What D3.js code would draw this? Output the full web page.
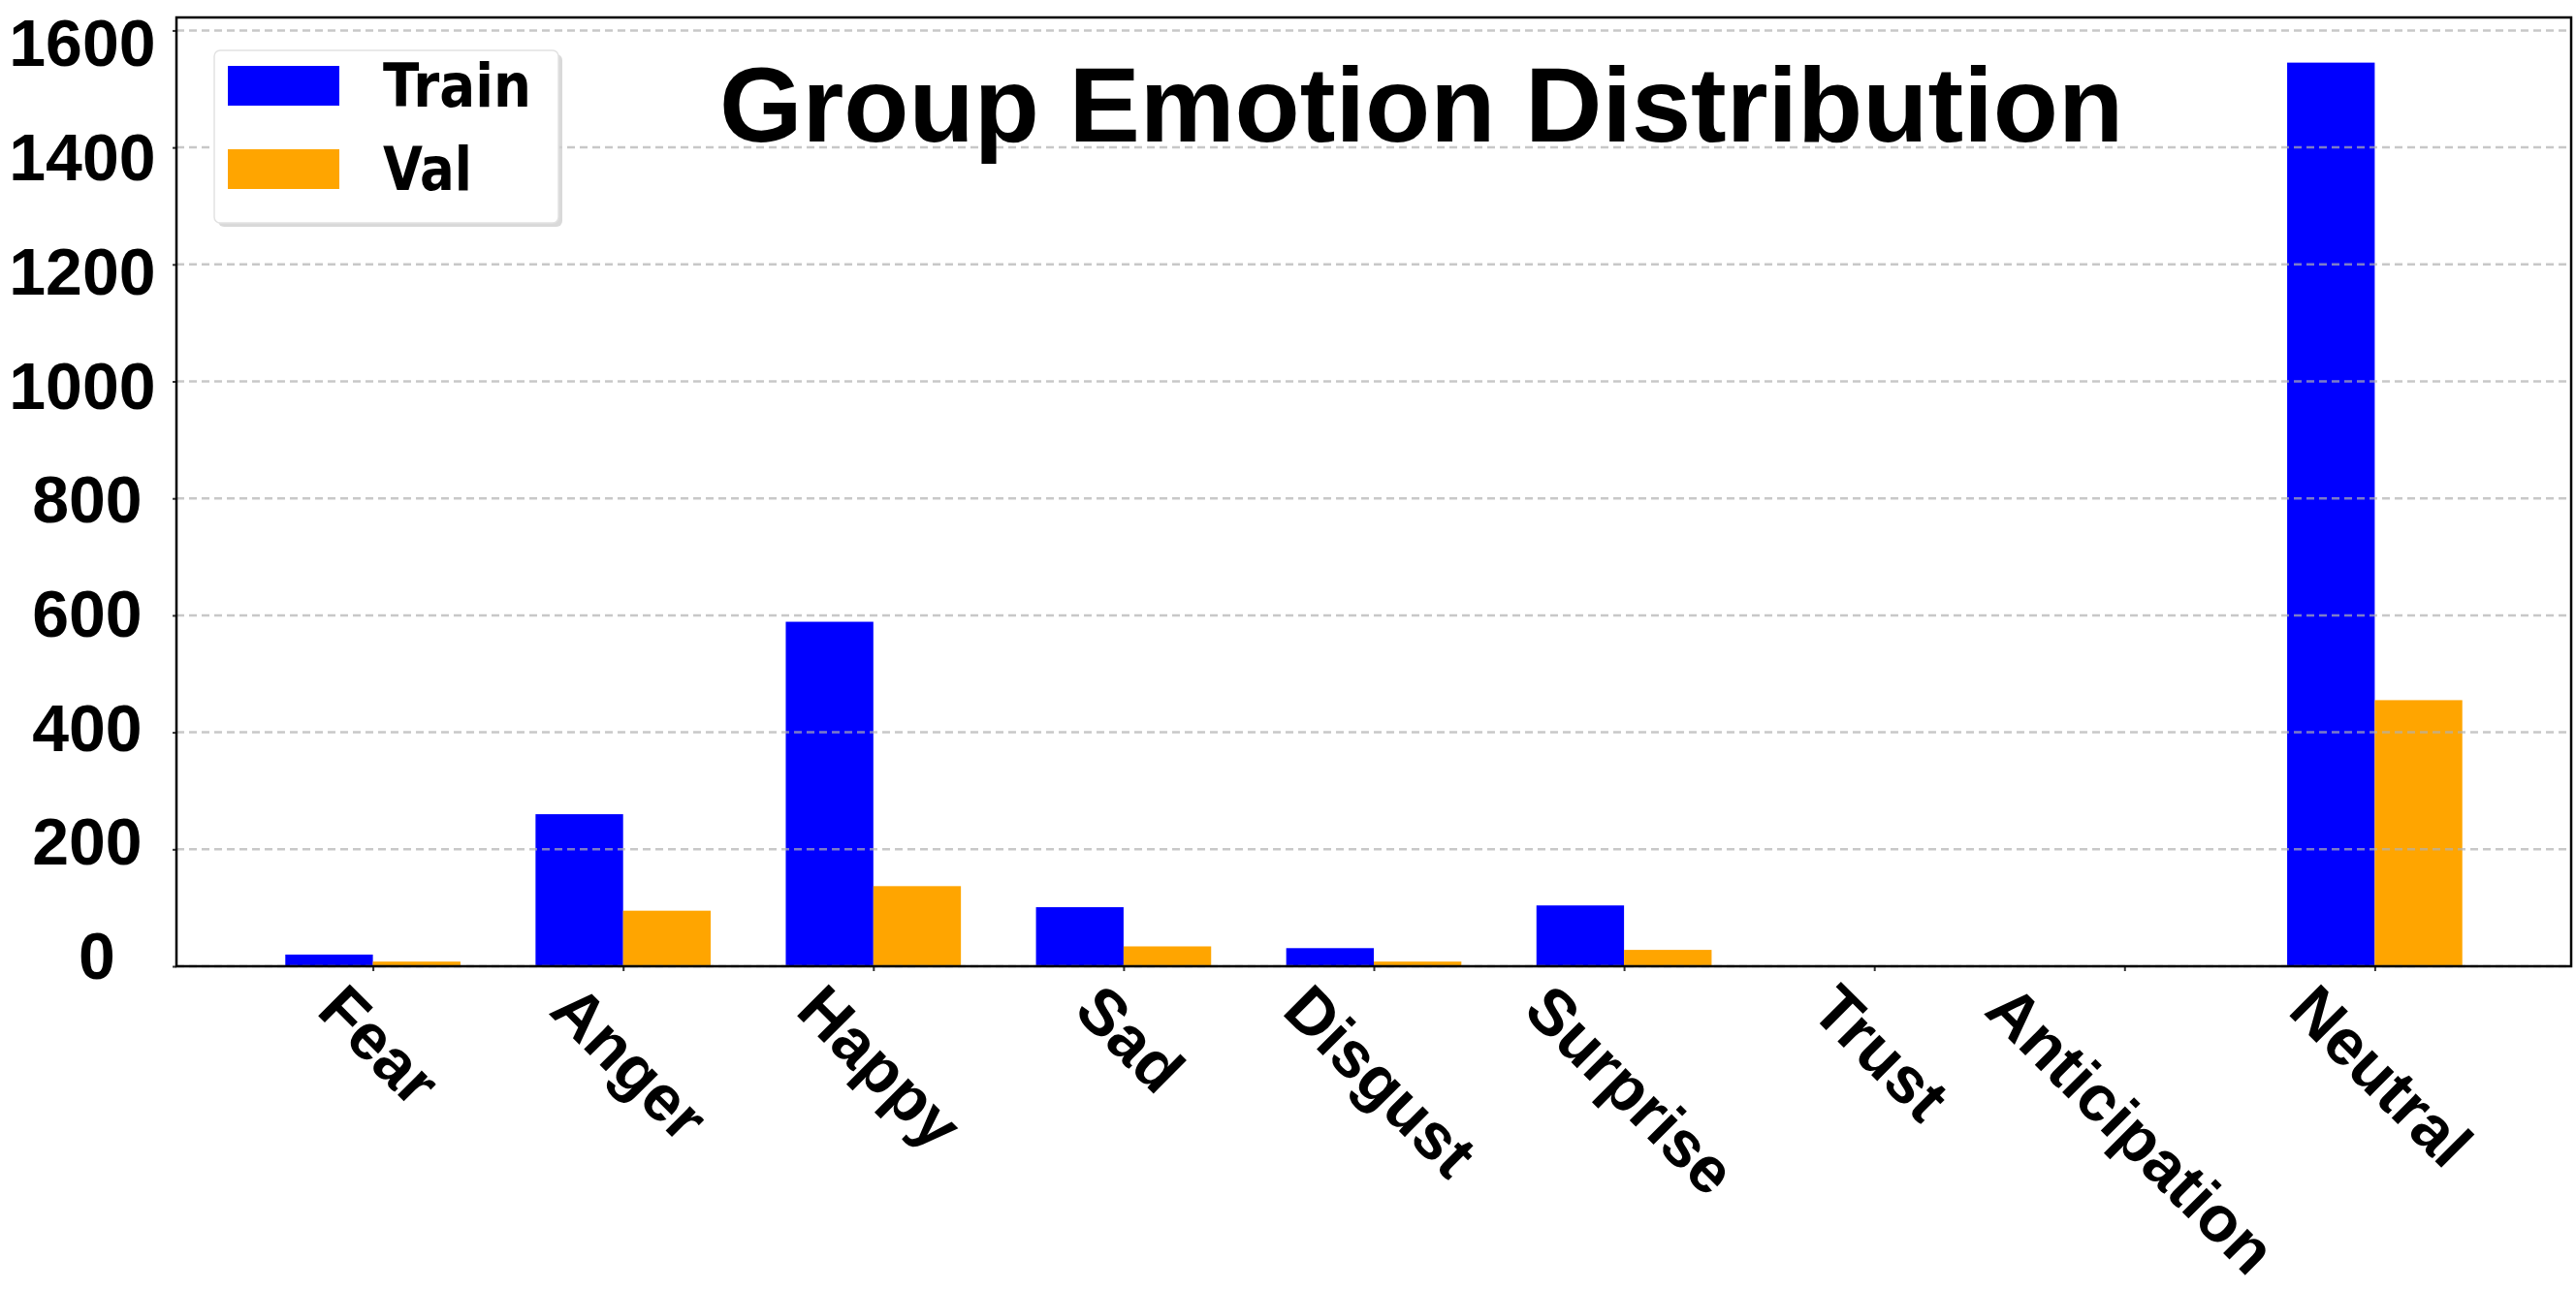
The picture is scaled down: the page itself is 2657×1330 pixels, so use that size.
<!DOCTYPE html>
<html>
<head>
<meta charset="utf-8">
<script src="https://cdn.jsdelivr.net/npm/d3@7"></script>
<style>
  html, body { margin: 0; padding: 0; background: #fff; }
  svg { display: block; }
</style>
</head>
<body>
<svg id="chart" width="2657" height="1330"></svg>
<script>
const categories = ["Fear", "Anger", "Happy", "Sad", "Disgust", "Surprise", "Trust", "Anticipation", "Neutral"];
const trainValues = [20, 260, 589, 101, 31, 104, 0, 0, 1545];
const valValues = [8, 95, 137, 34, 8, 28, 0, 0, 455];
const seriesNames = ["Train", "Val"];
const seriesColors = ["#0000ff", "#ffa500"];
const yTicks = [0, 200, 400, 600, 800, 1000, 1200, 1400, 1600];
const titleText = "Group Emotion Distribution";

const W = 2657, H = 1330;
const plot = { left: 182, right: 2652, top: 18, bottom: 997 };
const barW = 0.35;

const svg = d3.select("#chart");
svg.append("rect").attr("width", W).attr("height", H).attr("fill", "#fff");

const n = categories.length;
const x = d3.scaleLinear()
  .domain([-barW - 0.05 * (n - 1 + 2 * barW), (n - 1) + barW + 0.05 * (n - 1 + 2 * barW)])
  .range([plot.left, plot.right]);
const yMax = d3.max(trainValues.concat(valValues)) * 1.05;
const y = d3.scaleLinear().domain([0, yMax]).range([plot.bottom, plot.top]);

// bars
const g = svg.append("g");
g.selectAll("rect.train").data(trainValues).join("rect")
  .attr("class", "train")
  .attr("x", (d, i) => x(i - barW))
  .attr("width", (d, i) => x(i) - x(i - barW))
  .attr("y", d => y(d))
  .attr("height", d => y(0) - y(d))
  .attr("fill", seriesColors[0]);
g.selectAll("rect.val").data(valValues).join("rect")
  .attr("class", "val")
  .attr("x", (d, i) => x(i))
  .attr("width", (d, i) => x(i + barW) - x(i))
  .attr("y", d => y(d))
  .attr("height", d => y(0) - y(d))
  .attr("fill", seriesColors[1]);

// grid (drawn above bars, semi-transparent)
svg.append("g").selectAll("line").data(yTicks).join("line")
  .attr("x1", plot.left).attr("x2", plot.right)
  .attr("y1", d => y(d)).attr("y2", d => y(d))
  .attr("stroke", "#b0b0b0").attr("stroke-opacity", 0.7)
  .attr("stroke-width", 2.5).attr("stroke-dasharray", "8,5");

// y axis ticks via d3 axis
const yAxis = svg.append("g").attr("transform", `translate(${plot.left},0)`)
  .call(d3.axisLeft(y).tickValues(yTicks).tickSize(4).tickFormat(d3.format("d")));
yAxis.select(".domain").remove();
yAxis.selectAll(".tick line").attr("stroke", "#333").attr("stroke-width", 2);
const yLabelSpread = 24;
yAxis.selectAll(".tick text")
  .attr("font-family", "'Liberation Sans', Arial, Helvetica, sans-serif")
  .attr("font-weight", "bold").attr("font-size", 68).attr("fill", "#000")
  .attr("text-anchor", "middle").attr("dy", "0.36em")
  .each(function(d) {
    const w = this.getComputedTextLength();
    const cx = 105 - 0.133 * w;
    const off = (d / yTicks[yTicks.length - 1] - 0.5) * yLabelSpread;
    d3.select(this).attr("x", cx - plot.left).attr("y", off);
  });

// x axis
const xAxis = svg.append("g").attr("transform", `translate(0,${plot.bottom})`)
  .call(d3.axisBottom(x).tickValues(d3.range(n)).tickSize(5).tickFormat(i => categories[i]));
xAxis.select(".domain").remove();
xAxis.selectAll(".tick line").attr("stroke", "#333").attr("stroke-width", 2);
const fsX = 67;
xAxis.selectAll(".tick text")
  .attr("font-family", "'Liberation Sans', Arial, Helvetica, sans-serif")
  .attr("font-weight", "bold").attr("font-size", fsX).attr("fill", "#000")
  .attr("text-anchor", "middle").attr("dy", null).attr("y", null)
  .each(function() {
    const L = this.getComputedTextLength();
    const px = -10;
    const py = 14 + (L / 2 + 0.716 * fsX) * Math.SQRT1_2;
    d3.select(this).attr("transform", `translate(${px},${py}) rotate(45)`);
  });

// frame
svg.append("rect")
  .attr("x", plot.left).attr("y", plot.top)
  .attr("width", plot.right - plot.left).attr("height", plot.bottom - plot.top)
  .attr("fill", "none").attr("stroke", "#000").attr("stroke-width", 2.5);

// title
svg.append("text")
  .attr("x", 1466).attr("y", 146)
  .attr("text-anchor", "middle")
  .attr("font-family", "'Liberation Sans', Arial, Helvetica, sans-serif")
  .attr("font-weight", "bold").attr("font-size", 110).attr("fill", "#000")
  .text(titleText);

// legend
const lg = svg.append("g");
lg.append("rect").attr("x", 225).attr("y", 56).attr("width", 355).attr("height", 178)
  .attr("rx", 6).attr("fill", "#d0d0d0").attr("opacity", 0.8);
lg.append("rect").attr("x", 221).attr("y", 52).attr("width", 355).attr("height", 178)
  .attr("rx", 6).attr("fill", "#fff").attr("stroke", "#e2e2e2").attr("stroke-width", 1.5);
const legendRows = seriesNames.map((s, i) => ({ name: s, color: seriesColors[i], i }));
const rowY = [68, 154];
lg.selectAll("rect.patch").data(legendRows).join("rect")
  .attr("class", "patch")
  .attr("x", 235).attr("y", d => rowY[d.i]).attr("width", 115).attr("height", 41)
  .attr("fill", d => d.color);
const textW = [153, 92];
lg.selectAll("text").data(legendRows).join("text")
  .attr("x", 395).attr("y", d => rowY[d.i] + 42)
  .attr("font-family", "'DejaVu Sans', sans-serif")
  .attr("font-weight", "bold").attr("font-size", 62).attr("fill", "#000")
  .attr("textLength", d => textW[d.i]).attr("lengthAdjust", "spacingAndGlyphs")
  .text(d => d.name);
</script>
</body>
</html>
